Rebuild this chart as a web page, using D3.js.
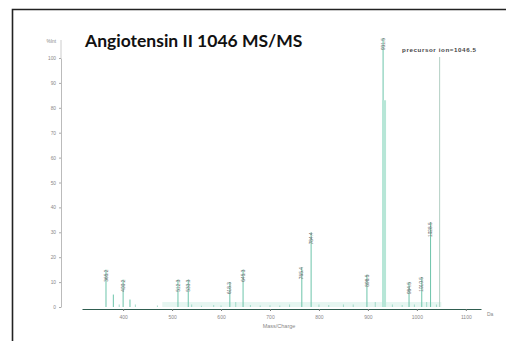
<!DOCTYPE html>
<html><head><meta charset="utf-8">
<script src="https://cdn.jsdelivr.net/npm/d3@7"></script>
<style>body{margin:0;background:#fff;}svg{display:block;}</style>
</head><body>
<svg id="c" width="506" height="341"></svg>
<script>
const peakMz = [365, 380, 400, 414, 512, 533, 618, 645, 765, 784, 898, 931, 933, 984, 1010, 1028];
const peakInt = [15, 5, 11, 3, 11, 11, 10, 15, 16, 30, 13, 108, 83, 10, 12, 34];
const peakLabels = ["365.2", "", "400.2", "", "512.3", "533.3", "618.3", "645.3", "765.4", "784.4", "898.5", "931.5", "", "984.5", "1010.5", "1028.5"];
const noiseMz = [392, 425, 470, 540, 560, 585, 600, 630, 660, 680, 700, 720, 740, 800, 820, 850, 870, 915, 950, 970, 995, 1020, 1040];
const noiseInt = [1, 1, 0.6, 1, 0.5, 0.8, 0.6, 2, 0.8, 0.6, 0.7, 0.6, 1, 1, 0.8, 1, 1, 2, 1, 0.8, 1, 2, 1];
const yTicks = [0, 10, 20, 30, 40, 50, 60, 70, 80, 90, 100];
const xTicks = [400, 500, 600, 700, 800, 900, 1000, 1100];
const precursorMz = 1046.5;
const title = "Angiotensin II 1046 MS/MS";

const svg = d3.select("#c");
const x = d3.scaleLinear().domain([316, 1131]).range([82, 481]);
const y = d3.scaleLinear().domain([0, 100]).range([307, 58]);
const font = "Arial, 'Liberation Sans', sans-serif";

// frame
svg.append("path").attr("d", "M12.5,341 V9.5 H506").attr("fill", "none").attr("stroke", "#222").attr("stroke-width", 1.6);

// title
svg.append("text").attr("x", 85).attr("y", 47).text(title)
  .attr("font-family", "Lato, 'Open Sans', sans-serif").attr("font-weight", 700)
  .attr("font-size", 17.5).attr("fill", "#111");

// baseline light area
svg.append("rect").attr("x", x(480)).attr("y", y(2)).attr("width", x(1050) - x(480)).attr("height", y(0) - y(2))
  .attr("fill", "#e6f6f1");

// y axis
const ya = svg.append("g").attr("transform", "translate(61,0)")
  .call(d3.axisLeft(y).tickValues(yTicks).tickSize(2).tickSizeOuter(0));
ya.select(".domain").attr("stroke", "#bbb");
ya.selectAll(".tick line").attr("stroke", "#aaa");
ya.selectAll("text").attr("font-size", 4.8).attr("fill", "#888").attr("font-family", font).attr("x", -5);
svg.append("line").attr("x1", 61).attr("x2", 61).attr("y1", 40).attr("y2", 58).attr("stroke", "#ccc");
svg.append("text").attr("x", 56).attr("y", 43).attr("text-anchor", "end").text("%Int")
  .attr("font-size", 4.8).attr("fill", "#888").attr("font-family", font);

// x axis
const xa = svg.append("g").attr("transform", "translate(0,309)")
  .call(d3.axisBottom(x).tickValues(xTicks).tickFormat(d3.format("d")).tickSize(2).tickSizeOuter(0));
xa.select(".domain").attr("stroke", "#2f5d50").attr("stroke-width", 1.2);
xa.selectAll(".tick line").attr("stroke", "#777");
xa.selectAll("text").attr("font-size", 5).attr("fill", "#888").attr("font-family", font).attr("dy", "0.9em");
svg.append("text").attr("x", 487).attr("y", 316).text("Da")
  .attr("font-size", 5).attr("fill", "#888").attr("font-family", font);
svg.append("text").attr("x", 279).attr("y", 328).attr("text-anchor", "middle").text("Mass/Charge")
  .attr("font-size", 5.5).attr("fill", "#888").attr("font-family", font);

// noise
svg.append("g").selectAll("line").data(noiseMz).join("line")
  .attr("x1", d => x(d)).attr("x2", d => x(d))
  .attr("y1", y(0)).attr("y2", (d, i) => y(noiseInt[i]))
  .attr("stroke", "#8fd3bf").attr("stroke-width", 0.8);

// precursor line
svg.append("line").attr("x1", x(precursorMz)).attr("x2", x(precursorMz))
  .attr("y1", 57).attr("y2", y(0)).attr("stroke", "#a9c9bd").attr("stroke-width", 0.9);
svg.append("text").attr("x", 402).attr("y", 52).text("precursor ion=" + precursorMz)
  .attr("font-size", 6.2).attr("fill", "#444").attr("font-family", font).attr("font-weight", 700)
  .attr("textLength", 74);

// peaks
const peaks = peakMz.map((m, i) => ({ m, v: peakInt[i], label: peakLabels[i] }));
const pk = svg.append("g");
pk.selectAll("line").data(peaks).join("line")
  .attr("x1", d => x(d.m)).attr("x2", d => x(d.m))
  .attr("y1", y(0)).attr("y2", d => y(d.v))
  .attr("stroke", d => d.label === "" && d.v > 50 ? "#b7e6d7" : "#6cc4aa")
  .attr("stroke-width", d => d.label === "" && d.v > 50 ? 4 : 1);

// peak labels
pk.selectAll("text").data(peaks.filter(d => d.label !== "")).join("text")
  .attr("transform", d => `translate(${x(d.m) + 1.6},${y(d.v)}) rotate(-90)`)
  .attr("text-anchor", "end")
  .text(d => d.label)
  .attr("font-size", 4.8).attr("fill", "#666").attr("font-family", font);
</script>
</body></html>
